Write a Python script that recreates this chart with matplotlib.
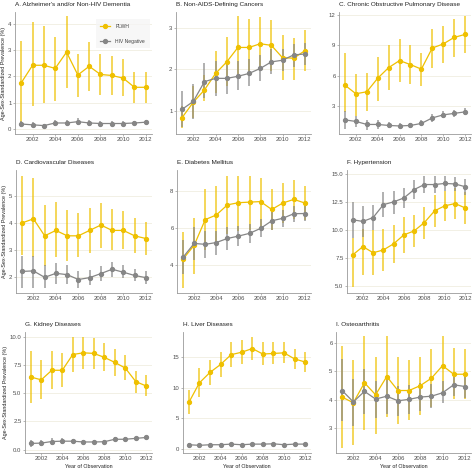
import matplotlib
matplotlib.use("Agg")
import matplotlib.pyplot as plt
import numpy as np
from matplotlib.lines import Line2D

plt.rcParams['font.family'] = ['Liberation Sans', 'DejaVu Sans']

years = list(range(2001, 2013))

# each panel: PLWH mean, PLWH (lo, hi), HIV-neg mean, HIV-neg (lo, hi)
alz_plwh = [1.75, 2.42, 2.42, 2.3, 2.92, 2.05, 2.38, 2.07, 2.03, 1.93, 1.58, 1.58]
alz_plwh_lo = [0.2, 0.85, 1.0, 1.05, 1.55, 1.2, 1.45, 1.27, 1.3, 1.25, 1.0, 1.0]
alz_plwh_hi = [3.35, 4.05, 3.9, 3.5, 4.3, 2.85, 3.32, 2.85, 2.78, 2.65, 2.18, 2.18]
alz_neg = [0.18, 0.15, 0.12, 0.22, 0.22, 0.27, 0.22, 0.2, 0.2, 0.2, 0.22, 0.25]
alz_neg_lo = [0.08, 0.07, 0.05, 0.1, 0.12, 0.15, 0.12, 0.12, 0.12, 0.13, 0.15, 0.18]
alz_neg_hi = [0.3, 0.25, 0.2, 0.35, 0.33, 0.4, 0.33, 0.3, 0.3, 0.28, 0.3, 0.33]

can_plwh = [0.83, 1.2, 1.5, 1.9, 2.18, 2.53, 2.53, 2.62, 2.58, 2.28, 2.27, 2.45]
can_plwh_lo = [0.57, 0.82, 1.22, 1.42, 1.6, 1.85, 1.85, 1.95, 1.95, 1.75, 1.75, 1.95]
can_plwh_hi = [1.12, 1.6, 1.85, 2.45, 2.78, 3.3, 3.22, 3.28, 3.2, 2.82, 2.75, 2.95]
can_neg = [1.03, 1.22, 1.7, 1.78, 1.78, 1.83, 1.9, 2.02, 2.18, 2.22, 2.35, 2.37]
can_neg_lo = [0.6, 0.8, 1.3, 1.35, 1.4, 1.5, 1.6, 1.72, 1.88, 1.95, 2.05, 2.1]
can_neg_hi = [1.48, 1.65, 2.15, 2.2, 2.2, 2.2, 2.25, 2.35, 2.5, 2.5, 2.62, 2.65]

copd_plwh = [5.05, 4.2, 4.4, 5.75, 6.8, 7.5, 7.1, 6.65, 8.75, 9.15, 9.8, 10.1]
copd_plwh_lo = [2.4, 1.95, 2.5, 3.5, 4.6, 5.4, 5.2, 5.0, 6.8, 7.3, 7.9, 8.3]
copd_plwh_hi = [8.3, 6.2, 6.3, 7.9, 9.0, 9.6, 9.0, 8.3, 10.6, 10.9, 11.6, 11.9]
copd_neg = [1.6, 1.45, 1.15, 1.15, 1.05, 1.0, 1.05, 1.25, 1.8, 2.1, 2.25, 2.4]
copd_neg_lo = [0.7, 0.85, 0.6, 0.7, 0.75, 0.8, 0.8, 1.0, 1.4, 1.75, 1.9, 2.05]
copd_neg_hi = [2.5, 2.0, 1.6, 1.6, 1.4, 1.3, 1.3, 1.6, 2.2, 2.5, 2.6, 2.75]

cvd_plwh = [4.0, 4.15, 3.52, 3.72, 3.52, 3.52, 3.72, 3.92, 3.72, 3.72, 3.52, 3.42]
cvd_plwh_lo = [2.8, 2.75, 2.4, 2.72, 2.6, 2.72, 2.88, 3.08, 2.98, 3.02, 2.9, 2.8]
cvd_plwh_hi = [5.75, 5.65, 4.68, 4.78, 4.48, 4.35, 4.55, 4.75, 4.5, 4.45, 4.18, 4.05]
cvd_neg = [2.2, 2.22, 1.98, 2.13, 2.08, 1.9, 1.97, 2.12, 2.28, 2.17, 2.05, 1.97]
cvd_neg_lo = [1.6, 1.6, 1.58, 1.75, 1.72, 1.6, 1.7, 1.85, 2.0, 1.95, 1.85, 1.75]
cvd_neg_hi = [2.78, 2.78, 2.42, 2.52, 2.42, 2.2, 2.25, 2.4, 2.55, 2.42, 2.28, 2.2]

dm_plwh = [4.3, 5.05, 6.45, 6.7, 7.25, 7.37, 7.4, 7.43, 7.0, 7.35, 7.55, 7.35]
dm_plwh_lo = [2.7, 3.5, 4.8, 5.05, 5.65, 5.8, 5.9, 6.0, 5.9, 6.25, 6.5, 6.45]
dm_plwh_hi = [5.75, 6.55, 8.1, 8.3, 8.85, 8.85, 8.8, 8.7, 8.1, 8.45, 8.6, 8.3]
dm_neg = [4.4, 5.15, 5.1, 5.2, 5.42, 5.55, 5.7, 5.97, 6.38, 6.52, 6.77, 6.78]
dm_neg_lo = [3.5, 4.25, 4.35, 4.5, 4.8, 5.0, 5.2, 5.5, 5.9, 6.05, 6.3, 6.35]
dm_neg_hi = [5.35, 6.05, 5.85, 5.85, 6.05, 6.1, 6.2, 6.5, 6.85, 6.95, 7.2, 7.2]

htn_plwh = [7.8, 8.55, 8.0, 8.25, 8.8, 9.6, 9.95, 10.7, 11.75, 12.2, 12.4, 12.0]
htn_plwh_lo = [4.9, 6.0, 6.0, 6.4, 7.1, 8.0, 8.5, 9.2, 10.3, 10.8, 11.0, 10.6]
htn_plwh_hi = [9.3, 10.1, 10.0, 10.1, 10.5, 11.2, 11.4, 12.1, 13.2, 13.5, 13.8, 13.4]
htn_neg = [10.95, 10.8, 11.15, 12.3, 12.55, 12.9, 13.65, 14.1, 14.1, 14.2, 14.15, 13.9]
htn_neg_lo = [9.3, 9.4, 10.0, 11.2, 11.5, 12.0, 12.8, 13.3, 13.3, 13.5, 13.5, 13.2]
htn_neg_hi = [12.55, 12.15, 12.3, 13.4, 13.5, 13.8, 14.5, 14.9, 14.9, 14.9, 14.8, 14.6]

kid_plwh = [6.45, 6.2, 7.05, 7.05, 8.45, 8.6, 8.55, 8.2, 7.75, 7.25, 6.05, 5.65]
kid_plwh_lo = [4.15, 4.5, 5.35, 5.55, 6.9, 7.15, 7.2, 6.95, 6.55, 6.15, 5.05, 4.75]
kid_plwh_hi = [8.75, 7.95, 8.8, 8.55, 10.0, 10.05, 9.95, 9.5, 8.95, 8.4, 7.0, 6.6]
kid_neg = [0.55, 0.58, 0.72, 0.75, 0.75, 0.68, 0.68, 0.7, 0.92, 0.92, 1.0, 1.08]
kid_neg_lo = [0.25, 0.3, 0.45, 0.5, 0.55, 0.5, 0.5, 0.55, 0.75, 0.75, 0.85, 0.95]
kid_neg_hi = [0.85, 0.85, 1.0, 1.0, 0.95, 0.85, 0.85, 0.85, 1.1, 1.1, 1.15, 1.22]

liv_plwh = [7.6, 10.8, 12.5, 13.8, 15.4, 15.8, 16.4, 15.5, 15.6, 15.7, 14.7, 14.2]
liv_plwh_lo = [5.7, 8.5, 10.4, 11.7, 13.4, 13.8, 14.5, 13.7, 13.8, 14.1, 13.1, 12.6]
liv_plwh_hi = [9.6, 13.2, 14.6, 15.9, 17.4, 17.8, 18.3, 17.4, 17.5, 17.5, 16.3, 15.8]
liv_neg = [0.7, 0.6, 0.7, 0.7, 0.8, 0.7, 0.8, 0.8, 0.85, 0.7, 0.8, 0.8]
liv_neg_lo = [0.45, 0.35, 0.45, 0.45, 0.55, 0.5, 0.6, 0.6, 0.65, 0.5, 0.6, 0.6]
liv_neg_hi = [0.95, 0.85, 0.95, 0.95, 1.05, 0.9, 1.0, 1.0, 1.05, 0.9, 1.0, 1.0]

oa_plwh = [4.1, 3.9, 4.6, 4.18, 4.82, 4.33, 4.33, 4.5, 4.76, 5.2, 4.9, 4.9]
oa_plwh_lo = [2.3, 2.42, 2.95, 2.82, 3.4, 3.15, 3.28, 3.48, 3.75, 4.15, 4.02, 4.02]
oa_plwh_hi = [5.88, 5.4, 6.25, 5.5, 6.25, 5.5, 5.4, 5.52, 5.77, 6.25, 5.82, 5.78]
oa_neg = [4.33, 3.93, 4.3, 4.03, 4.13, 3.97, 4.02, 4.1, 4.13, 4.25, 4.53, 4.47]
oa_neg_lo = [3.25, 3.1, 3.5, 3.38, 3.52, 3.45, 3.52, 3.62, 3.72, 3.88, 4.12, 4.08]
oa_neg_hi = [5.42, 4.75, 5.08, 4.68, 4.73, 4.48, 4.52, 4.58, 4.55, 4.65, 4.95, 4.88]

YELLOW = '#EFC000'
GRAY = '#868686'
W, H = 474, 471

fig = plt.figure(figsize=(W / 100, H / 100), dpi=100)


def px_axes(left, right, top, bottom):
    return fig.add_axes([left / W, 1 - bottom / H, (right - left) / W, (bottom - top) / H])


def series(ax, mean, lo, hi, color):
    m = np.array(mean)
    err = [m - np.array(lo), np.array(hi) - m]
    ax.errorbar(years, m, yerr=err, fmt='none', ecolor=color, elinewidth=1.3,
                alpha=0.7, capsize=0, zorder=2)
    ax.plot(years, m, color=color, lw=0.9, marker='o', ms=2.8, zorder=3)


def panel(box, title, data, ylim, yticks, ylabels, ylabel=False, xlabel=False):
    ax = px_axes(*box)
    plwh, plwh_lo, plwh_hi, neg, neg_lo, neg_hi = data
    series(ax, plwh, plwh_lo, plwh_hi, YELLOW)
    series(ax, neg, neg_lo, neg_hi, GRAY)
    ax.set_xlim(2000.45, 2012.55)
    ax.set_ylim(*ylim)
    ax.set_xticks(range(2002, 2013, 2))
    ax.set_yticks(yticks)
    ax.set_yticklabels(ylabels)
    ax.grid(axis='y', color='#f0eee0', lw=0.6, zorder=0)
    ax.set_axisbelow(True)
    for s in ['top', 'right']:
        ax.spines[s].set_visible(False)
    for s in ['left', 'bottom']:
        ax.spines[s].set_color('#9a9a9a')
        ax.spines[s].set_linewidth(0.6)
    ax.tick_params(labelsize=4.3, colors='#9a9a9a', labelcolor='#4d4d4d',
                   length=1.5, width=0.5, pad=1)
    ax.set_title(title, loc='left', fontsize=4.6, color='#222222', pad=4)
    if ylabel:
        ax.set_ylabel('Age-Sex-Standardized Prevalence (%)', fontsize=3.9,
                      color='#222222', labelpad=1.5)
    if xlabel:
        ax.set_xlabel('Year of Observation', fontsize=3.9, color='#222222', labelpad=1.5)
    return ax


axA = panel((15, 152, 12, 134), "A. Alzheimer's and/or Non-HIV Dementia",
            (alz_plwh, alz_plwh_lo, alz_plwh_hi, alz_neg, alz_neg_lo, alz_neg_hi),
            (-0.2, 4.45), [0, 1, 2, 3, 4], ['0', '1', '2', '3', '4'], ylabel=True)
panel((176, 311, 12, 134), 'B. Non-AIDS-Defining Cancers',
      (can_plwh, can_plwh_lo, can_plwh_hi, can_neg, can_neg_lo, can_neg_hi),
      (0.43, 3.39), [1, 2, 3], ['1', '2', '3'])
panel((339, 471, 12, 134), 'C. Chronic Obstructive Pulmonary Disease',
      (copd_plwh, copd_plwh_lo, copd_plwh_hi, copd_neg, copd_neg_lo, copd_neg_hi),
      (0.2, 12.33), [3, 6, 9, 12], ['3', '6', '9', '12'])

panel((16, 152, 170, 293), 'D. Cardiovascular Diseases',
      (cvd_plwh, cvd_plwh_lo, cvd_plwh_hi, cvd_neg, cvd_neg_lo, cvd_neg_hi),
      (1.4, 5.96), [2, 3, 4, 5], ['2', '3', '4', '5'], ylabel=True)
panel((177, 311, 170, 293), 'E. Diabetes Mellitus',
      (dm_plwh, dm_plwh_lo, dm_plwh_hi, dm_neg, dm_neg_lo, dm_neg_hi),
      (2.45, 9.15), [4, 6, 8], ['4', '6', '8'])
panel((347, 471, 170, 293), 'F. Hypertension',
      (htn_plwh, htn_plwh_lo, htn_plwh_hi, htn_neg, htn_neg_lo, htn_neg_hi),
      (4.4, 15.4), [5, 7.5, 10, 12.5, 15], ['5.0', '7.5', '10.0', '12.5', '15.0'])

panel((25, 152, 332, 453), 'G. Kidney Diseases',
      (kid_plwh, kid_plwh_lo, kid_plwh_hi, kid_neg, kid_neg_lo, kid_neg_hi),
      (-0.3, 10.45), [0, 2.5, 5, 7.5, 10], ['0.0', '2.5', '5.0', '7.5', '10.0'],
      ylabel=True, xlabel=True)
panel((183, 311, 332, 453), 'H. Liver Diseases',
      (liv_plwh, liv_plwh_lo, liv_plwh_hi, liv_neg, liv_neg_lo, liv_neg_hi),
      (-0.65, 19.1), [0, 5, 10, 15], ['0', '5', '10', '15'], xlabel=True)
panel((336, 471, 332, 453), 'I. Osteoarthritis',
      (oa_plwh, oa_plwh_lo, oa_plwh_hi, oa_neg, oa_neg_lo, oa_neg_hi),
      (2.14, 6.38), [3, 4, 5, 6], ['3', '4', '5', '6'], xlabel=True)

handles = [Line2D([], [], color=YELLOW, lw=0.9, marker='o', ms=2.8),
           Line2D([], [], color=GRAY, lw=0.9, marker='o', ms=2.8)]
leg = axA.legend(handles, ['PLWH', 'HIV Negative'], loc='upper right',
                 bbox_to_anchor=(1.0, 0.96), fontsize=3.6, frameon=True,
                 handlelength=2.0, labelspacing=2.0, borderpad=0.9,
                 handletextpad=1.0, labelcolor='#444444')
leg.get_frame().set_facecolor('#f5f5f5')
leg.get_frame().set_edgecolor('none')
leg.get_frame().set_boxstyle('square', pad=0)

fig.savefig('out.png', dpi=100)
